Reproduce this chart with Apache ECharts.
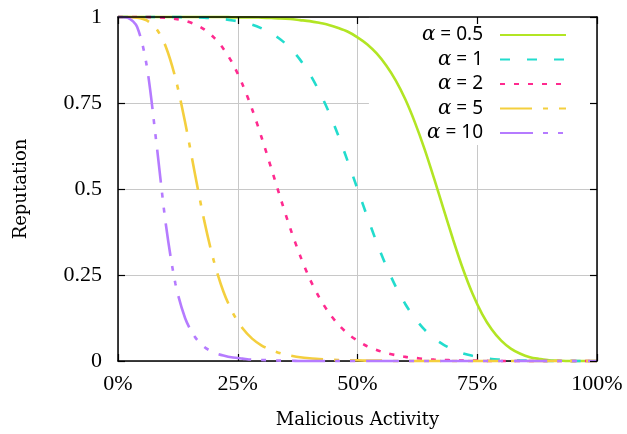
<!DOCTYPE html>
<html>
<head>
<meta charset="utf-8">
<script src="https://cdn.jsdelivr.net/npm/echarts@6/dist/echarts.min.js"></script>
<style>html,body{margin:0;padding:0;background:#fff}#c{width:627px;height:434px}</style>
</head>
<body>
<div id="c"></div>
<script>
// Malicious activity (%) sample positions
var xs = [0,2,4,6,8,10,12,14,16,18,20,22,24,26,28,30,32,34,36,38,40,42,44,46,48,50,52,54,56,58,60,62,64,66,68,70,72,74,76,78,80,82,84,86,88,90,92,94,96,98,100];
var seriesNames = ['α = 0.5', 'α = 1', 'α = 2', 'α = 5', 'α = 10'];
var rep05 = [1,1,1,1,1,1,1,1,1,1,1,1,0.999,0.999,0.999,0.998,0.997,0.996,0.994,0.991,0.988,0.983,0.977,0.968,0.957,0.941,0.921,0.894,0.859,0.815,0.760,0.693,0.616,0.530,0.440,0.351,0.268,0.196,0.137,0.092,0.059,0.036,0.021,0.011,0.006,0.002,0.001,0,0,0,0];
var rep1 = [1,1,1,1,1,1,1,0.999,0.999,0.998,0.996,0.994,0.990,0.985,0.978,0.967,0.953,0.934,0.909,0.876,0.835,0.784,0.724,0.655,0.579,0.5,0.421,0.345,0.276,0.216,0.165,0.124,0.091,0.066,0.047,0.033,0.022,0.015,0.010,0.006,0.004,0.002,0.001,0.001,0,0,0,0,0,0,0];
var rep2 = [1,1,1,1,0.999,0.998,0.994,0.989,0.979,0.964,0.941,0.908,0.863,0.804,0.732,0.649,0.560,0.470,0.384,0.307,0.240,0.185,0.141,0.106,0.079,0.059,0.043,0.032,0.023,0.017,0.012,0.009,0.006,0.004,0.003,0.002,0.001,0.001,0.001,0,0,0,0,0,0,0,0,0,0,0,0];
var rep5 = [1,1,0.998,0.990,0.966,0.913,0.822,0.695,0.549,0.408,0.291,0.202,0.139,0.095,0.065,0.045,0.032,0.022,0.016,0.011,0.008,0.006,0.004,0.003,0.002,0.002,0.001,0.001,0.001,0,0,0,0,0,0,0,0,0,0,0,0,0,0,0,0,0,0,0,0,0,0];
var rep10 = [1,0.998,0.971,0.858,0.636,0.396,0.224,0.125,0.071,0.041,0.025,0.016,0.010,0.007,0.004,0.003,0.002,0.001,0.001,0,0,0,0,0,0,0,0,0,0,0,0,0,0,0,0,0,0,0,0,0,0,0,0,0,0,0,0,0,0,0,0];
var xTicks = [0, 25, 50, 75, 100];
var yTicks = [0, 0.25, 0.5, 0.75, 1];

var colors = ['#b2e524', '#22dccd', '#ff2a8f', '#f4cf3e', '#b57bff'];
var dashes = ['solid', [10, 17], [5, 9], [32, 11, 5, 11], [33, 10, 5, 10, 5, 11]];
var allValues = [rep05, rep1, rep2, rep5, rep10];

var chart = echarts.init(document.getElementById('c'), null, {renderer: 'canvas'});
var tickFont = 'Liberation Serif';
var series = allValues.map(function (vals, i) {
  return {
    name: seriesNames[i],
    type: 'line',
    xAxisIndex: 0, yAxisIndex: 0,
    data: xs.map(function (x, j) { return [x, vals[j]]; }),
    smooth: 0.3,
    symbol: 'none',
    showSymbol: false,
    clip: false,
    z: 3,
    lineStyle: {color: colors[i], width: 2.6, type: dashes[i]},
    itemStyle: {color: colors[i]}
  };
});

function baseX(extra) {
  return Object.assign({
    type: 'value', min: xTicks[0], max: xTicks[xTicks.length - 1], interval: 25,
    axisLine: {show: true, onZero: false, lineStyle: {color: '#000', width: 1.5}},
    axisTick: {show: true, inside: true, length: 7, lineStyle: {color: '#000', width: 1.2}},
    splitLine: {show: false}
  }, extra);
}
function baseY(extra) {
  return Object.assign({
    type: 'value', min: yTicks[0], max: yTicks[yTicks.length - 1], interval: 0.25,
    axisLine: {show: true, onZero: false, lineStyle: {color: '#000', width: 1.5}},
    axisTick: {show: true, inside: true, length: 7, lineStyle: {color: '#000', width: 1.2}},
    splitLine: {show: false}
  }, extra);
}

chart.setOption({
  animation: false,
  backgroundColor: '#fff',
  grid: {left: 118, right: 30, top: 17, bottom: 71, containLabel: false},
  xAxis: [
    baseX({position: 'bottom', z: 0,
      name: 'Malicious Activity', nameLocation: 'middle', nameGap: 50,
      nameTextStyle: {fontFamily: 'DejaVu Serif', fontSize: 18, color: '#000'},
      axisLabel: {formatter: '{value}%', fontFamily: tickFont, fontSize: 22, color: '#000', margin: 12},
      splitLine: {show: true, lineStyle: {color: '#c8c8c8', width: 1}}}),
    baseX({position: 'top', z: 6, axisLabel: {show: false}})
  ],
  yAxis: [
    baseY({position: 'left', z: 0,
      name: 'Reputation', nameLocation: 'middle', nameGap: 88, nameRotate: 90,
      nameTextStyle: {fontFamily: 'DejaVu Serif', fontSize: 18, color: '#000'},
      axisLabel: {fontFamily: tickFont, fontSize: 22, color: '#000', margin: 16},
      splitLine: {show: true, lineStyle: {color: '#c8c8c8', width: 1}}}),
    baseY({position: 'right', z: 6, axisLabel: {show: false}})
  ],
  legend: {
    orient: 'vertical',
    right: 30, top: 17,
    align: 'right',
    z: 1,
    backgroundColor: '#fff',
    padding: [8, 30, 2, 53],
    itemWidth: 66, itemHeight: 14, itemGap: 4.5,
    itemStyle: {opacity: 0, color: 'rgba(0,0,0,0)', borderWidth: 0},
    data: seriesNames,
    formatter: function (name) { return '{a|α}{b|' + name.slice(1) + '}'; },
    textStyle: {
      color: '#000', fontFamily: 'Noto Sans', fontSize: 19, lineHeight: 20,
      padding: [0, 12, 0, 0],
      rich: {
        a: {fontFamily: 'DejaVu Serif', fontStyle: 'italic', fontSize: 20, color: '#000'},
        b: {fontFamily: 'Noto Sans', fontSize: 19, color: '#000'}
      }
    }
  },
  series: series
});
</script>
</body>
</html>
